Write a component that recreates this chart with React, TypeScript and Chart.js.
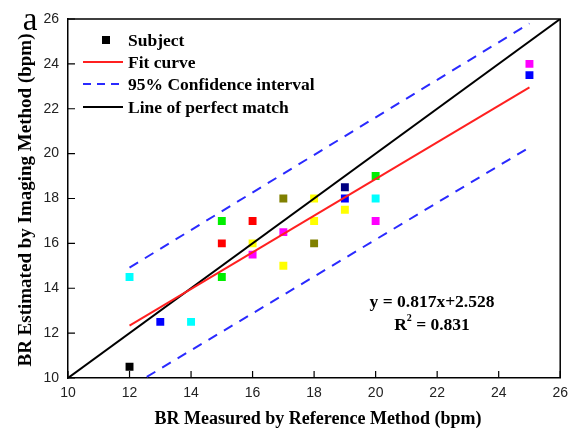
import React, { useEffect, useRef } from "react";
import { Chart, registerables } from "chart.js";

Chart.register(...registerables);

// Subject data (reference BR vs imaging BR)
const subjectX = [12, 12, 13, 14, 15, 15, 15, 16, 16, 16, 17, 17, 17, 18, 18, 18, 19, 19, 19, 20, 20, 20, 25, 25];
const subjectY = [10.5, 14.5, 12.5, 12.5, 17, 16, 14.5, 17, 16, 15.5, 18, 16.5, 15, 18, 17, 16, 18.5, 18, 17.5, 19, 18, 17, 24, 23.5];
const subjectColors = [
  "#000000", "#00ffff", "#0000ff", "#00ffff", "#00ee00", "#ff0000", "#00ee00", "#ff0000", "#ffff00", "#ff00ff",
  "#808000", "#ff00ff", "#ffff00", "#ffff00", "#ffff00", "#808000", "#000080", "#0000ff", "#ffff00", "#00ee00",
  "#00ffff", "#ff00ff", "#ff00ff", "#0000ff",
];

const fitX = [12, 25];
const fitY = [12.33, 22.95];
const upperX = [12, 25];
const upperY = [14.92, 25.8];
const lowerX = [12.56, 25];
const lowerY = [10.05, 20.28];
const perfectX = [10, 26];
const perfectY = [10, 26];

const tickValues = [10, 12, 14, 16, 18, 20, 22, 24, 26];
const legendLabels = ["Subject", "Fit curve", "95% Confidence interval", "Line of perfect match"];
const xTitle = "BR Measured by Reference Method (bpm)";
const yTitle = "BR Estimated by Imaging Method (bpm)";
const panelLabel = "a";
const eqLine1 = "y = 0.817x+2.528";
const eqLine2Pre = "R";
const eqLine2Post = " = 0.831";

const pts = (xs: number[], ys: number[]) => xs.map((x, i) => ({ x, y: ys[i] }));

const SERIF = '"Liberation Serif", "Times New Roman", serif';
const SANS = '"Liberation Sans", Arial, sans-serif';

const decorPlugin = {
  id: "decor",
  afterDraw(chart: any) {
    const ctx = chart.ctx as CanvasRenderingContext2D;
    const { left, right, top, bottom } = chart.chartArea;
    const xs = chart.scales.x;
    const ys = chart.scales.y;
    ctx.save();
    // frame top & right
    ctx.strokeStyle = "#000";
    ctx.lineWidth = 1.5;
    ctx.beginPath();
    ctx.moveTo(left, top);
    ctx.lineTo(right, top);
    ctx.lineTo(right, bottom);
    ctx.stroke();
    // inward ticks
    ctx.lineWidth = 1.2;
    ctx.beginPath();
    tickValues.forEach((v) => {
      const px = xs.getPixelForValue(v);
      ctx.moveTo(px, bottom);
      ctx.lineTo(px, bottom - 7);
      const py = ys.getPixelForValue(v);
      ctx.moveTo(left, py);
      ctx.lineTo(left + 7, py);
    });
    ctx.stroke();

    // legend
    const lx0 = 83, lx1 = 123, tx = 128;
    const rows = [40, 62, 84, 107];
    ctx.fillStyle = "#000";
    ctx.fillRect(102, rows[0] - 4, 8, 8);
    ctx.lineWidth = 2;
    ctx.strokeStyle = "#ff2020";
    ctx.beginPath(); ctx.moveTo(lx0, rows[1]); ctx.lineTo(lx1, rows[1]); ctx.stroke();
    ctx.strokeStyle = "#2a2aff";
    ctx.setLineDash([8, 6]);
    ctx.beginPath(); ctx.moveTo(lx0, rows[2]); ctx.lineTo(lx1, rows[2]); ctx.stroke();
    ctx.setLineDash([]);
    ctx.strokeStyle = "#000";
    ctx.beginPath(); ctx.moveTo(lx0, rows[3]); ctx.lineTo(lx1, rows[3]); ctx.stroke();
    ctx.font = `bold 17.5px ${SERIF}`;
    ctx.textAlign = "left";
    ctx.textBaseline = "middle";
    legendLabels.forEach((t, i) => ctx.fillText(t, tx, rows[i] + 1));

    // equation
    ctx.textAlign = "center";
    ctx.font = `bold 17.5px ${SERIF}`;
    ctx.fillText(eqLine1, 432, 302);
    const w1 = ctx.measureText(eqLine2Pre).width;
    const w2 = ctx.measureText(eqLine2Post).width;
    ctx.font = `bold 10px ${SERIF}`;
    const ws = ctx.measureText("2").width;
    const total = w1 + ws + w2;
    const sx = 432 - total / 2;
    ctx.textAlign = "left";
    ctx.font = `bold 17.5px ${SERIF}`;
    ctx.fillText(eqLine2Pre, sx, 325);
    ctx.fillText(eqLine2Post, sx + w1 + ws, 325);
    ctx.font = `bold 10px ${SERIF}`;
    ctx.fillText("2", sx + w1, 318);

    // axis titles
    ctx.font = `bold 18px ${SERIF}`;
    ctx.textAlign = "center";
    ctx.fillText(xTitle, 318, 419);
    ctx.save();
    ctx.translate(26, 200);
    ctx.rotate(-Math.PI / 2);
    ctx.font = `bold 19px ${SERIF}`;
    ctx.fillText(yTitle, 0, 0);
    ctx.restore();

    // panel label
    ctx.font = `33px ${SERIF}`;
    ctx.textAlign = "center";
    ctx.textBaseline = "alphabetic";
    ctx.fillText(panelLabel, 30, 30);
    ctx.restore();
  },
};

export default function App() {
  const ref = useRef<HTMLCanvasElement | null>(null);
  useEffect(() => {
    document.body.style.margin = "0";
    const canvas = ref.current!;
    const chart = new Chart(canvas, {
      type: "scatter",
      data: {
        datasets: [
          {
            label: "Subject",
            data: pts(subjectX, subjectY),
            pointStyle: "rect",
            pointRadius: 5.6,
            pointBorderWidth: 0,
            pointBackgroundColor: subjectColors,
            backgroundColor: subjectColors,
            order: 10,
          },
          {
            label: "Fit curve",
            data: pts(fitX, fitY),
            showLine: true,
            borderColor: "#ff2020",
            borderWidth: 2,
            pointRadius: 0,
            order: 1,
          },
          {
            label: "95% upper",
            data: pts(upperX, upperY),
            showLine: true,
            borderColor: "#2a2aff",
            borderWidth: 2,
            borderDash: [10, 8],
            pointRadius: 0,
            order: 1,
          },
          {
            label: "95% lower",
            data: pts(lowerX, lowerY),
            showLine: true,
            borderColor: "#2a2aff",
            borderWidth: 2,
            borderDash: [10, 8],
            pointRadius: 0,
            order: 1,
          },
          {
            label: "Perfect",
            data: pts(perfectX, perfectY),
            showLine: true,
            borderColor: "#000",
            borderWidth: 2,
            pointRadius: 0,
            order: 1,
          },
        ],
      },
      options: {
        responsive: false,
        animation: false,
        layout: { padding: { top: 19, right: 12, left: 0, bottom: 0 } },
        plugins: { legend: { display: false }, tooltip: { enabled: false } },
        scales: {
          x: {
            type: "linear",
            min: 10,
            max: 26,
            afterFit: (s: any) => { s.height = 51; },
            afterBuildTicks: (s: any) => { s.ticks = tickValues.map((v) => ({ value: v })); },
            grid: { display: false, drawTicks: false },
            border: { display: true, color: "#000", width: 1.5 },
            ticks: { padding: 7, color: "#222", font: { family: SANS, size: 14 }, maxRotation: 0 },
          },
          y: {
            type: "linear",
            min: 10,
            max: 26,
            afterFit: (s: any) => { s.width = 68; },
            afterBuildTicks: (s: any) => { s.ticks = tickValues.map((v) => ({ value: v })); },
            grid: { display: false, drawTicks: false },
            border: { display: true, color: "#000", width: 1.5 },
            ticks: { padding: 9, color: "#222", font: { family: SANS, size: 14 } },
          },
        },
      },
      plugins: [decorPlugin],
    });
    return () => chart.destroy();
  }, []);
  return (
    <div style={{ width: 575, height: 429, background: "#fff" }}>
      <canvas ref={ref} width={575} height={429} style={{ display: "block" }} />
    </div>
  );
}
